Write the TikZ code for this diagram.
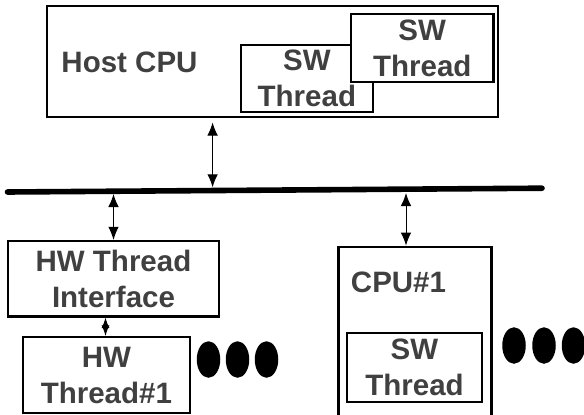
\documentclass[tikz,border=0pt]{standalone}
\usepackage{fontspec}
\setmainfont{Liberation Sans}
\usetikzlibrary{arrows.meta,shapes.geometric}
\definecolor{txt}{RGB}{64,64,64}
\tikzset{
  box/.style={draw=black, line width=2.2pt, fill=white, inner sep=0pt, rectangle},
  lbl/.style={text=txt, font=\bfseries\fontsize{29.5}{36}\selectfont, align=center, inner sep=0pt},
  link/.style={line width=1pt, {Latex[length=13pt,width=10.5pt]}-{Latex[length=13pt,width=10.5pt]}},
  joint/.style={line width=1pt, {Latex[length=10.5pt,width=8pt]}-{Latex[length=10.5pt,width=8pt]}},
  dot/.style={ellipse, fill=black, draw=none, inner sep=0pt, minimum width=23.5pt, minimum height=36.5pt},
  bus/.style={line width=5.6pt, line cap=round}
}
\begin{document}
\begin{tikzpicture}[x=1pt,y=-1pt]
\useasboundingbox (0,0) rectangle (584,415);
\clip (0,0) rectangle (584,415);
\fill[white] (0,0) rectangle (584,415);
% Host CPU
\node[box, minimum width=451.3pt, minimum height=111pt] (host) at (272.35,61.5) {};
\node[lbl] (hostlbl) at (129.5,62) {Host CPU};
\node[box, lbl, minimum width=132.3pt, minimum height=67pt] (sw1) at (306.85,78.2) {SW\\Thread};
\node[box, lbl, minimum width=142.5pt, minimum height=67.7pt] (sw2) at (422.25,48.15) {SW\\Thread};
% bus
\coordinate (bl) at (7.5,192);
\coordinate (br) at (542,188.2);
\draw[bus] (bl) -- (br);
\coordinate (bh) at (212.6,187.3);
\coordinate (ht) at (212.6,122.5);
\coordinate (bi) at (113.5,194);
\coordinate (bc) at (406,193);
% HW side
\node[box, lbl, minimum width=211pt, minimum height=75.5pt] (iface) at (113.5,278.75) {HW Thread\\Interface};
\node[box, lbl, minimum width=167.3pt, minimum height=76pt] (hw1) at (106.35,375) {HW\\Thread\#1};
% CPU#1
\node[box, minimum width=153pt, minimum height=190pt] (cpu) at (415,341.7) {};
\node[lbl] (cpulbl) at (398.5,282) {CPU\#1};
\node[box, lbl, minimum width=135pt, minimum height=69pt] (sw3) at (414.5,367.5) {SW\\Thread};
% connectors
\draw[link] (ht) -- (bh);
\draw[link] (bi) -- (113.5,240 |- iface.north);
\draw[link] (bc) -- (406,245.5 |- cpu.north);
\draw[joint] (105.5,316.5 |- iface.south) -- (105.5,337 |- hw1.north);
% dots
\node[dot] (d1) at (208.5,359.5) {};
\node[dot] (d2) at (237.5,359.5) {};
\node[dot] (d3) at (266.5,359.5) {};
\node[dot] (d4) at (514,345.5) {};
\node[dot] (d5) at (544,345.5) {};
\node[dot] (d6) at (573.5,345.5) {};
\end{tikzpicture}
\end{document}
